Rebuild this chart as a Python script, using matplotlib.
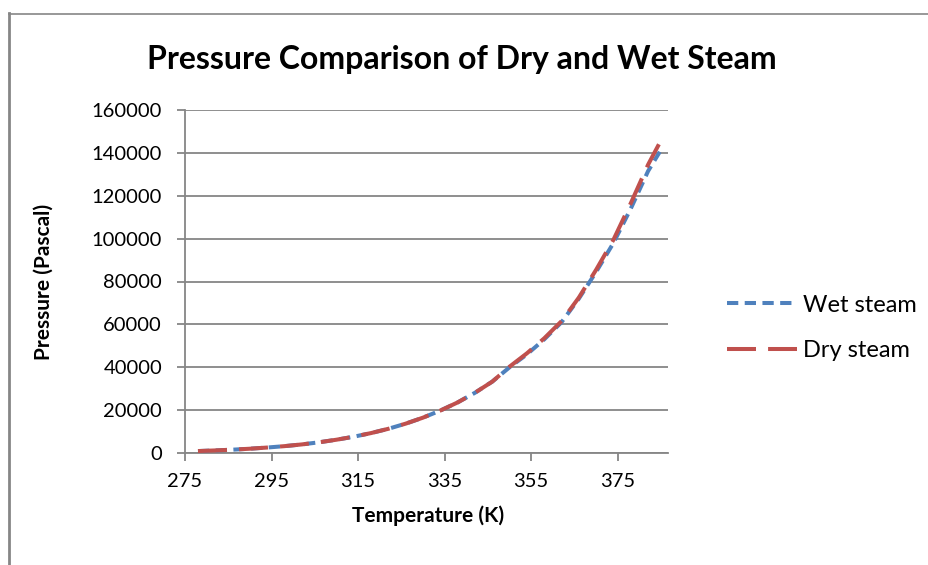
import matplotlib
matplotlib.use("Agg")
import matplotlib.pyplot as plt
from matplotlib.lines import Line2D

plt.rcParams['font.family'] = ['Lato', 'DejaVu Sans']

# Temperature (K) and pressure (Pa) readings for both series
temp_wet = [278, 282, 286, 290, 294, 298, 302, 306, 310, 314, 318, 322, 326,
            330, 334, 338, 342, 346, 350, 354, 358, 362, 366, 370, 374, 378,
            382, 384.7]
pres_wet = [900, 1200, 1550, 2000, 2550, 3200, 4000, 5000, 6200, 7600, 9300,
            11300, 13700, 16500, 19800, 23600, 28100, 33300, 40000, 46000,
            53000, 61000, 72000, 84500, 98000, 114000, 131500, 140500]

temp_dry = [278, 282, 286, 290, 294, 298, 302, 306, 310, 314, 318, 322, 326,
            330, 334, 338, 342, 346, 350, 354, 358, 362, 366, 370, 374, 378,
            382, 384.5]
pres_dry = [900, 1200, 1550, 2000, 2550, 3200, 4000, 5000, 6200, 7600, 9300,
            11300, 13700, 16500, 19800, 23600, 28100, 33300, 40300, 46500,
            53500, 61500, 72500, 85500, 99500, 116500, 134500, 144000]

x_ticks = [275, 295, 315, 335, 355, 375]
y_ticks = [0, 20000, 40000, 60000, 80000, 100000, 120000, 140000, 160000]

W, H = 929, 565
fig = plt.figure(figsize=(W / 100, H / 100), dpi=100)
ax = fig.add_axes([185 / W, 1 - 453 / H, (668 - 185) / W, (453 - 110) / H])

grid_col = '#868686'
blue = '#4F81BD'
red = '#C0504D'

ax.plot(temp_wet, pres_wet, color=blue, lw=2.9, dashes=(2.8, 1.6),
        dash_capstyle='butt', label='Wet steam', zorder=3)
ax.plot(temp_dry, pres_dry, color=red, lw=2.9, dashes=(7.2, 3.0),
        dash_capstyle='butt', label='Dry steam', zorder=4)

ax.set_xlim(275, 386.6)
ax.set_ylim(0, 160000)
ax.set_xticks(x_ticks)
ax.set_yticks(y_ticks)
ax.yaxis.grid(True, color=grid_col, lw=1.3)
ax.set_axisbelow(True)

for s in ['top', 'right']:
    ax.spines[s].set_visible(False)
for s in ['left', 'bottom']:
    ax.spines[s].set_color(grid_col)
    ax.spines[s].set_linewidth(1.3)
ax.tick_params(axis='both', colors=grid_col, length=5.5, width=1.3,
               labelsize=14.5, labelcolor='black')
ax.tick_params(axis='y', pad=11)
ax.tick_params(axis='x', pad=9)

ax.set_xlabel('Temperature (K)', fontsize=15, fontweight='bold')
ax.set_ylabel('Pressure (Pascal)', fontsize=15, fontweight='bold')
ax.xaxis.set_label_coords((428 - 185) / 483, (453 - 505) / 343)
ax.yaxis.set_label_coords((54 - 185) / 483, 0.5)

fig.text(462 / W, 1 - 59 / H, 'Pressure Comparison of Dry and Wet Steam',
         ha='center', va='center', fontsize=23, fontweight='bold')

ax.legend(loc='center left', bbox_to_anchor=(727 / W, 1 - 328 / H),
          bbox_transform=fig.transFigure, frameon=False, fontsize=17,
          handlelength=2.95, handletextpad=0.25, labelspacing=1.05,
          borderpad=0, borderaxespad=0)

# outer chart border (left and top edges)
fig.add_artist(Line2D([9.5 / W, 9.5 / W], [0, 1 - 13 / H], color=grid_col,
                      lw=2.0, transform=fig.transFigure))
fig.add_artist(Line2D([9.5 / W, 1], [1 - 13.5 / H, 1 - 13.5 / H], color=grid_col,
                      lw=1.2, transform=fig.transFigure))

fig.savefig('out.png', dpi=100, facecolor='white')
